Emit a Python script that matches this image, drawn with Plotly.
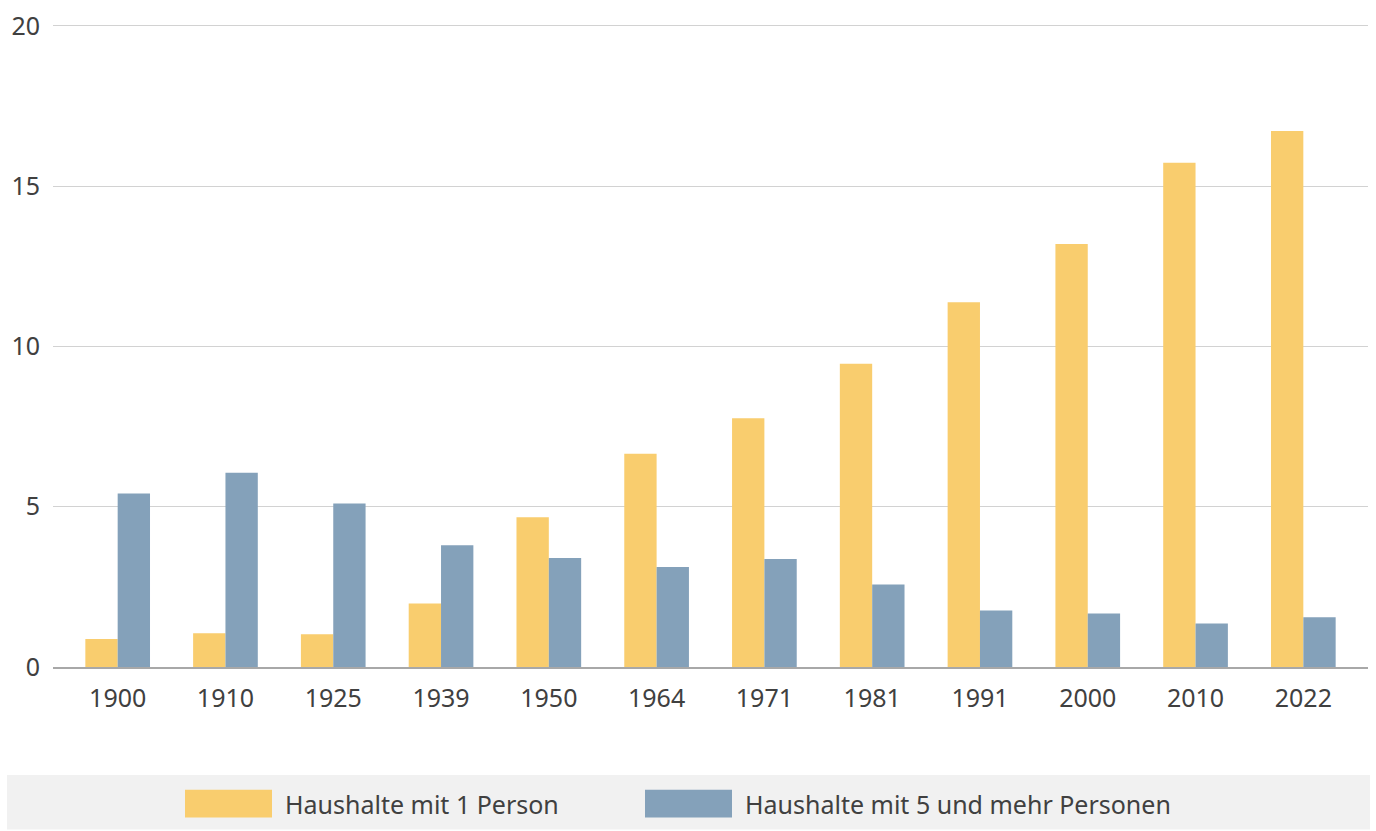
import plotly.graph_objects as go

years = ["1900", "1910", "1925", "1939", "1950", "1964", "1971", "1981", "1991", "2000", "2010", "2022"]
one_person = [0.87, 1.05, 1.02, 1.98, 4.67, 6.65, 7.76, 9.46, 11.38, 13.20, 15.73, 16.72]
five_plus = [5.41, 6.06, 5.10, 3.80, 3.40, 3.12, 3.37, 2.57, 1.76, 1.67, 1.36, 1.55]
series_names = ["Haushalte mit 1 Person", "Haushalte mit 5 und mehr Personen"]
colors = ["#F9CD6E", "#84A1BA"]

W, H = 1376, 831
L, R, T, B = 53, 8, 10, 164
pw, ph = W - L - R, H - T - B
y_top = 20 * ph / 647.0  # keeps 20 at pixel row 20 with 0 at row 667

def px(x):
    return (x - L) / pw

def py(y):
    return (H - B - y) / ph

FONT = "Noto Sans"
TXT = "#404040"

fig = go.Figure()
fig.add_trace(go.Bar(x=years, y=one_person, name=series_names[0], marker_color=colors[0],
                     marker_line_width=0, showlegend=False))
fig.add_trace(go.Bar(x=years, y=five_plus, name=series_names[1], marker_color=colors[1],
                     marker_line_width=0, showlegend=False))

shapes = [
    dict(type="rect", xref="paper", yref="paper", x0=px(7), x1=px(1370), y0=py(831), y1=py(776),
         fillcolor="#f1f1f1", line_width=0, layer="below"),
    dict(type="rect", xref="paper", yref="paper", x0=px(185), x1=px(272), y0=py(819), y1=py(791),
         fillcolor=colors[0], line_width=0),
    dict(type="rect", xref="paper", yref="paper", x0=px(645), x1=px(732), y0=py(819), y1=py(791),
         fillcolor=colors[1], line_width=0),
]
annotations = [
    dict(text=series_names[0], xref="paper", yref="paper", x=px(283), y=py(805), xanchor="left",
         yanchor="middle", showarrow=False, font=dict(family=FONT, size=25, color=TXT)),
    dict(text=series_names[1], xref="paper", yref="paper", x=px(743), y=py(805), xanchor="left",
         yanchor="middle", showarrow=False, font=dict(family=FONT, size=25, color=TXT)),
]

fig.update_layout(
    width=W, height=H,
    margin=dict(l=L, r=R, t=T, b=B),
    paper_bgcolor="white", plot_bgcolor="white",
    barmode="group", bargap=0.4, bargroupgap=0,
    font=dict(family=FONT, size=25, color=TXT),
    shapes=shapes, annotations=annotations,
    xaxis=dict(type="category", range=[-0.6, 11.6], showgrid=False, showline=True,
               linecolor="#a8a8a8", linewidth=1.5, ticks="", ticklabelstandoff=8,
               tickfont=dict(family=FONT, size=25, color=TXT), fixedrange=True),
    yaxis=dict(range=[0, y_top], tickvals=[0, 5, 10, 15, 20], showgrid=True, gridcolor="#d2d2d2",
               gridwidth=1, zeroline=False, showline=False, ticks="", ticklabelstandoff=12,
               tickfont=dict(family=FONT, size=25, color=TXT), fixedrange=True),
)

fig.write_html("out.html", config={"displayModeBar": False},
               post_script="document.body.style.margin='0';")
